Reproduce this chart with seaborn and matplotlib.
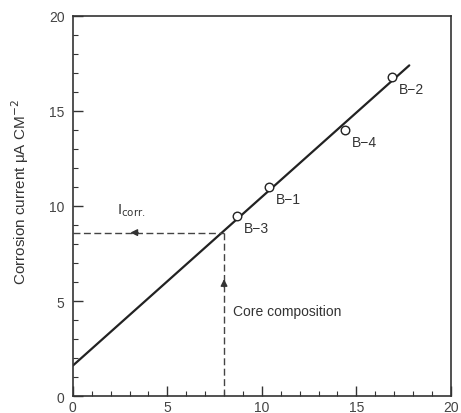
import matplotlib
matplotlib.use("Agg")
import matplotlib.pyplot as plt
import seaborn as sns
import pandas as pd
from matplotlib.ticker import MultipleLocator

sns.set_theme(style="ticks")
plt.rcParams['font.family'] = ['Liberation Sans', 'DejaVu Sans']

# data
fit_x = [0.0, 17.8]
fit_y = [1.6, 17.4]
sample_labels = ["B−3", "B−1", "B−4", "B−2"]
sample_x = [8.7, 10.4, 14.4, 16.9]
sample_y = [9.5, 11.0, 14.0, 16.8]
core_x = 8.0
icorr_y = 8.6
x_ticks = [0, 5, 10, 15, 20]
y_ticks = [0, 5, 10, 15, 20]

fit_df = pd.DataFrame({"x": fit_x, "y": fit_y})
pts_df = pd.DataFrame({"x": sample_x, "y": sample_y, "label": sample_labels})

fig = plt.figure(figsize=(4.61, 4.14), dpi=100)
ax = fig.add_axes([0.158, 0.041, 0.82, 0.918])

ink = "#222222"
sns.lineplot(data=fit_df, x="x", y="y", ax=ax, color=ink, linewidth=1.6)
sns.scatterplot(data=pts_df, x="x", y="y", ax=ax, s=38, marker="o",
                facecolor="white", edgecolor=ink, linewidth=1.0, zorder=5)

for lab, x, y in zip(sample_labels, sample_x, sample_y):
    ax.text(x + 0.35, y - 0.65, lab, fontsize=10, color="#333333", va="center", ha="left")

# dashed guides
ax.plot([0, core_x], [icorr_y, icorr_y], ls=(0, (5, 2.5)), color="#444444", lw=1.0)
ax.plot([core_x, core_x], [0, icorr_y], ls=(0, (5, 2.5)), color="#444444", lw=1.0)
ax.annotate("", xy=(2.9, icorr_y), xytext=(3.6, icorr_y),
            arrowprops=dict(arrowstyle="-|>", color="#333333", lw=1.0, mutation_scale=10))
ax.annotate("", xy=(core_x, 6.3), xytext=(core_x, 5.6),
            arrowprops=dict(arrowstyle="-|>", color="#333333", lw=1.0, mutation_scale=10))
ax.text(3.1, 9.8, r"I$_{\mathrm{corr.}}$", fontsize=10.5, color="#333333", ha="center", va="center")
ax.text(8.45, 4.5, "Core composition", fontsize=10, color="#333333", ha="left", va="center")

ax.set_xlim(0, 20)
ax.set_ylim(0, 20)
ax.set_xticks(x_ticks)
ax.set_yticks(y_ticks)
ax.xaxis.set_minor_locator(MultipleLocator(1))
ax.yaxis.set_minor_locator(MultipleLocator(1))
ax.tick_params(which="major", direction="in", length=7, width=1.0, colors="#333333",
               labelsize=10, labelcolor="#444444", pad=6)
ax.tick_params(which="minor", direction="in", length=3.5, width=0.8, colors="#333333")
ax.tick_params(axis="x", pad=3)
for s in ax.spines.values():
    s.set_color("#333333")
    s.set_linewidth(1.2)
ax.set_xlabel("")
ax.set_ylabel("Corrosion current μA CM$^{-2}$", fontsize=11, color="#333333")
ax.yaxis.set_label_coords(-0.11, 0.54)

fig.savefig("out.png", dpi=100)
